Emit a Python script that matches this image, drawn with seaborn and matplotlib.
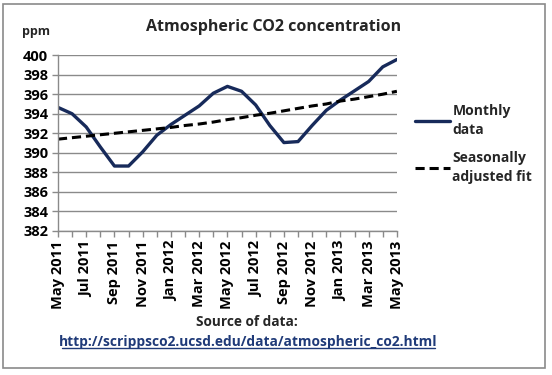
import matplotlib
matplotlib.use("Agg")
import matplotlib.pyplot as plt
import pandas as pd
import seaborn as sns
from matplotlib.lines import Line2D
from matplotlib.patches import Rectangle

months = [
    "May 2011", "Jun 2011", "Jul 2011", "Aug 2011", "Sep 2011", "Oct 2011", "Nov 2011", "Dec 2011",
    "Jan 2012", "Feb 2012", "Mar 2012", "Apr 2012", "May 2012", "Jun 2012", "Jul 2012", "Aug 2012",
    "Sep 2012", "Oct 2012", "Nov 2012", "Dec 2012", "Jan 2013", "Feb 2013", "Mar 2013", "Apr 2013",
    "May 2013",
]
monthly = [
    394.65, 394.0, 392.65, 390.6, 388.65, 388.65, 390.1, 391.8,
    392.9, 393.85, 394.8, 396.1, 396.8, 396.3, 394.9, 392.8,
    391.05, 391.15, 392.8, 394.35, 395.4, 396.35, 397.3, 398.8,
    399.55,
]
fit = [
    391.4, 391.55, 391.7, 391.85, 392.0, 392.15, 392.3, 392.45,
    392.6, 392.8, 392.95, 393.15, 393.4, 393.6, 393.85, 394.05,
    394.3, 394.55, 394.8, 395.0, 395.3, 395.5, 395.75, 396.0,
    396.3,
]
y_ticks = list(range(382, 401, 2))

sns.set_theme(style="white")
plt.rcParams["font.family"] = ["Open Sans", "DejaVu Sans"]
plt.rcParams["font.weight"] = "bold"

NAVY = "#172a5a"
GREY = "#8a8a8a"
LINK = "#1f3a78"

df = pd.DataFrame({"idx": range(len(months)), "month": months, "monthly": monthly, "fit": fit})

fig = plt.figure(figsize=(5.52, 3.75), dpi=100)
ax = fig.add_axes([0.105, 0.384, 0.614, 0.469])

sns.lineplot(data=df, x="idx", y="monthly", color=NAVY, linewidth=2.4, ax=ax)
sns.lineplot(data=df, x="idx", y="fit", color="black", linewidth=2.2, linestyle=(0, (3, 1.6)), ax=ax)

ax.set_xlim(0, len(months) - 1)
ax.set_ylim(382, 400)
ax.set_yticks(y_ticks)
ax.set_yticklabels([str(v) for v in y_ticks], fontsize=10.5, fontweight="bold")
ax.set_xticks(range(len(months)))
ax.set_xticklabels([m if i % 2 == 0 else "" for i, m in enumerate(months)],
                   rotation=90, fontsize=10.5, fontweight="bold")
ax.set_xlabel("")
ax.set_ylabel("")
ax.yaxis.grid(True, color=GREY, linewidth=1)
ax.xaxis.grid(False)
for side in ("top", "right"):
    ax.spines[side].set_visible(False)
for side in ("left", "bottom"):
    ax.spines[side].set_color(GREY)
    ax.spines[side].set_linewidth(1)
ax.tick_params(axis="both", which="major", length=4, width=1, color=GREY, direction="out",
               bottom=True, left=True, pad=3, labelcolor="black")

fig.text(0.4955, 0.928, "Atmospheric CO2 concentration", ha="center", va="center",
         fontsize=11.5, fontweight="bold")
fig.text(0.065, 0.917, "ppm", ha="center", va="center", fontsize=9, fontweight="bold")

handles = [
    Line2D([0], [0], color=NAVY, linewidth=2.4),
    Line2D([0], [0], color="black", linewidth=2.2, linestyle=(0, (3, 1.6))),
]
leg = fig.legend(handles, ["Monthly\ndata", "Seasonally\nadjusted fit"], loc="center left",
                 bbox_to_anchor=(0.729, 0.616), frameon=False, handlelength=2.5,
                 handletextpad=0.2, labelspacing=0.95, prop={"weight": "bold", "size": 10})
for t in leg.get_texts():
    t.set_linespacing(1.5)

fig.text(0.448, 0.141, "Source of data:", ha="center", va="center", fontsize=9.8, fontweight="bold")
fig.text(0.45, 0.089, "http://scrippsco2.ucsd.edu/data/atmospheric_co2.html", ha="center", va="center",
         fontsize=9.9, fontweight="bold", color=LINK)
fig.add_artist(Line2D([0.113, 0.788], [0.073, 0.073], color=LINK, linewidth=1,
                      transform=fig.transFigure))

fig.add_artist(Rectangle((0.006, 0.02), 0.982, 0.97, transform=fig.transFigure,
                         fill=False, edgecolor=GREY, linewidth=1.2))

fig.savefig("out.png", dpi=100)
